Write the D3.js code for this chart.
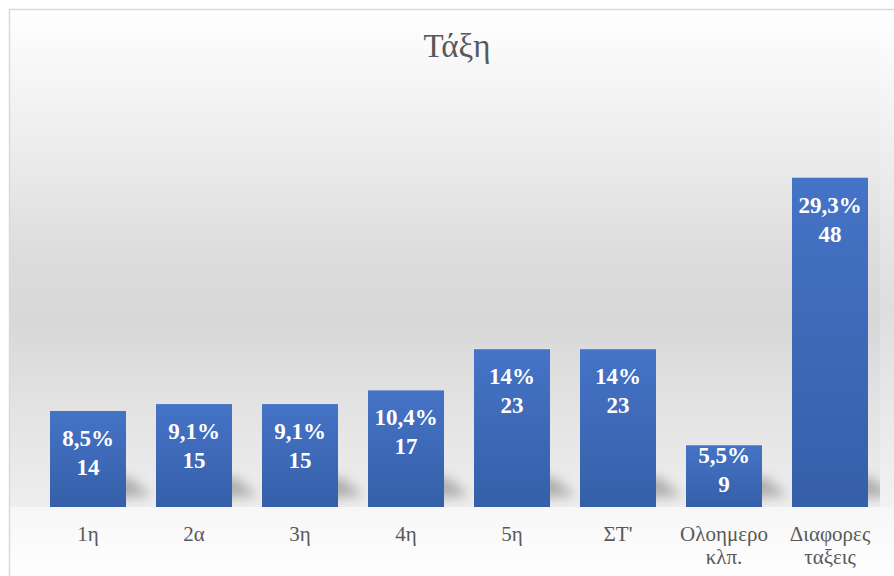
<!DOCTYPE html>
<html>
<head>
<meta charset="utf-8">
<script src="https://cdn.jsdelivr.net/npm/d3@7"></script>
</head>
<body style="margin:0;background:#ffffff">
<script>
// Κατανομή ανά τάξη
const categories = ["1η", "2α", "3η", "4η", "5η", "ΣΤ'", "Ολοημερο κλπ.", "Διαφορες ταξεις"];
const categoryLines = [["1η"], ["2α"], ["3η"], ["4η"], ["5η"], ["ΣΤ'"], ["Ολοημερο", "κλπ."], ["Διαφορες", "ταξεις"]];
const counts = [14, 15, 15, 17, 23, 23, 9, 48];
const percents = ["8,5%", "9,1%", "9,1%", "10,4%", "14%", "14%", "5,5%", "29,3%"];
const title = "Τάξη";

const FONT = '"Liberation Serif"';
const W = 894, H = 576;
const baseline = 507;

const svg = d3.select("body").append("svg")
  .attr("width", W).attr("height", H)
  .style("display", "block");

const defs = svg.append("defs");

// background wash: white at the top, grey band mid-height, lighter toward the floor
const bg = defs.append("linearGradient").attr("id", "bgGrad")
  .attr("gradientUnits", "userSpaceOnUse")
  .attr("x1", 0).attr("y1", 10).attr("x2", 0).attr("y2", baseline);
[[0, "#ffffff"], [0.1, "#f8f8f8"], [0.3, "#ebebeb"], [0.5, "#dcdcdc"], [0.63, "#d8d8d8"],
 [0.8, "#e3e3e3"], [1, "#eeeeee"]].forEach(([o, c]) =>
  bg.append("stop").attr("offset", o).attr("stop-color", c));

const bgSide = defs.append("linearGradient").attr("id", "bgSide")
  .attr("gradientUnits", "userSpaceOnUse")
  .attr("x1", 0).attr("y1", 10).attr("x2", 0).attr("y2", baseline);
[[0, "#ffffff"], [0.3, "#ededed"], [0.6, "#dedede"], [1, "#f2f2f2"]].forEach(([o, c]) =>
  bgSide.append("stop").attr("offset", o).attr("stop-color", c));

const floor = defs.append("linearGradient").attr("id", "floorGrad")
  .attr("x1", 0).attr("y1", 0).attr("x2", 0).attr("y2", 1);
floor.append("stop").attr("offset", 0).attr("stop-color", "#f7f7f7");
floor.append("stop").attr("offset", 1).attr("stop-color", "#fefefe");

const barGrad = defs.append("linearGradient").attr("id", "barGrad")
  .attr("x1", 0).attr("y1", 0).attr("x2", 0).attr("y2", 1);
barGrad.append("stop").attr("offset", 0).attr("stop-color", "#4573c6");
barGrad.append("stop").attr("offset", 1).attr("stop-color", "#355fa8");

const blur = defs.append("filter").attr("id", "shadowBlur")
  .attr("x", "-50%").attr("y", "-50%").attr("width", "200%").attr("height", "200%");
blur.append("feGaussianBlur").attr("stdDeviation", 6);

defs.append("clipPath").attr("id", "plotClip")
  .append("rect").attr("x", 9).attr("y", 10).attr("width", 871).attr("height", baseline - 10);

// backgrounds
svg.append("rect").attr("x", 9).attr("y", 10).attr("width", 871).attr("height", baseline - 10)
  .attr("fill", "url(#bgGrad)");
svg.append("rect").attr("x", 880).attr("y", 10).attr("width", W - 880).attr("height", baseline - 10)
  .attr("fill", "url(#bgSide)");
svg.append("rect").attr("x", 9).attr("y", baseline).attr("width", W - 9).attr("height", H - baseline)
  .attr("fill", "url(#floorGrad)");

// chart border
svg.append("path")
  .attr("d", `M9.5,${H} V9.5 H${W}`)
  .attr("fill", "none").attr("stroke", "#d9d9d9").attr("stroke-width", 1.5);

// scales
const x = d3.scaleBand()
  .domain(categories)
  .range([35, 883])
  .paddingInner(0.283)
  .paddingOuter(0.1415);

const y = d3.scaleLinear()
  .domain([0, 50])
  .range([baseline, 164]);

const data = categories.map((c, i) => ({ cat: c, lines: categoryLines[i], n: counts[i], pct: percents[i] }));

// soft cast shadows behind each bar
svg.append("g").attr("clip-path", "url(#plotClip)")
  .selectAll("path").data(data).join("path")
  .attr("d", d => {
    const x1 = x(d.cat) + x.bandwidth();
    return `M${x1 - 14},${baseline - 30} L${x1 + 4},${baseline - 29} L${x1 + 26},${baseline - 11} L${x1 - 14},${baseline - 9} Z`;
  })
  .attr("fill", "#6f6f6f").attr("opacity", 0.5)
  .attr("filter", "url(#shadowBlur)");

// bars
svg.append("g").selectAll("rect").data(data).join("rect")
  .attr("x", d => x(d.cat))
  .attr("y", d => y(d.n))
  .attr("width", x.bandwidth())
  .attr("height", d => y(0) - y(d.n))
  .attr("fill", "url(#barGrad)");

// data labels: percentage over count, kept inside the bar
const countBaseline = d => Math.min(y(d.n) + 64, baseline - 15);

const labels = svg.append("g")
  .attr("text-anchor", "middle");

labels.selectAll("text.pct").data(data).join("text").attr("class", "pct")
  .attr("x", d => x(d.cat) + x.bandwidth() / 2)
  .attr("y", d => countBaseline(d) - 29)
  .style("font-family", FONT).style("font-weight", "bold").style("font-size", "23px")
  .attr("fill", "#ffffff")
  .text(d => d.pct);

labels.selectAll("text.cnt").data(data).join("text").attr("class", "cnt")
  .attr("x", d => x(d.cat) + x.bandwidth() / 2)
  .attr("y", d => countBaseline(d))
  .style("font-family", FONT).style("font-weight", "bold").style("font-size", "23px")
  .attr("fill", "#ffffff")
  .text(d => d.n);

// category axis
const axis = svg.append("g")
  .attr("transform", `translate(0,${baseline})`)
  .call(d3.axisBottom(x).tickSize(0).tickFormat(""));
axis.select(".domain").remove();
axis.attr("font-family", null).attr("font-size", null);

const catText = axis.selectAll(".tick").append("text")
  .style("font-family", FONT).style("font-size", "21px")
  .attr("fill", "#595959")
  .attr("text-anchor", "middle");
catText.each(function(c) {
  const d = data.find(e => e.cat === c);
  d3.select(this).selectAll("tspan").data(d.lines).join("tspan")
    .attr("x", 0)
    .attr("y", (t, i) => 34 + i * 23)
    .text(t => t);
});

// title
svg.append("text")
  .attr("x", 457).attr("y", 57)
  .attr("text-anchor", "middle")
  .style("font-family", FONT).style("font-size", "33px")
  .attr("fill", "#595959")
  .text(title);
</script>
</body>
</html>
